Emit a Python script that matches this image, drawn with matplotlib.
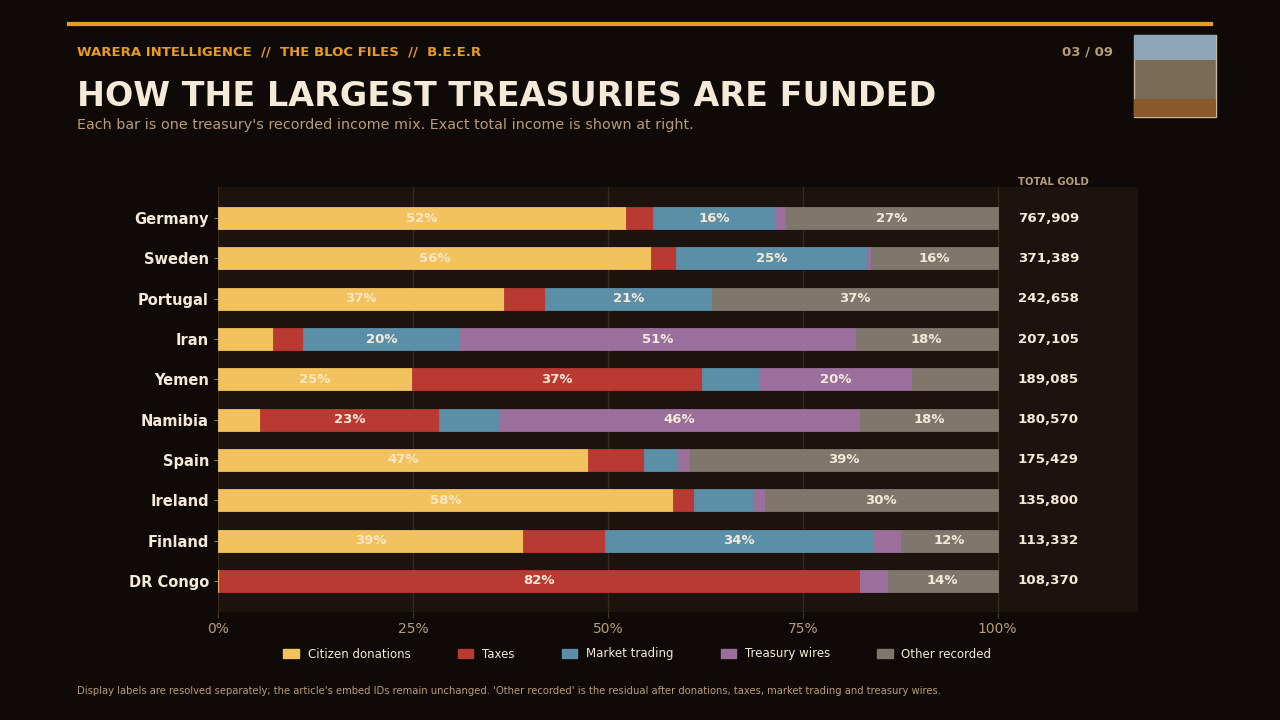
import matplotlib
matplotlib.use("Agg")
import matplotlib.pyplot as plt
from matplotlib.patches import Rectangle, Patch

countries = ["Germany", "Sweden", "Portugal", "Iran", "Yemen",
             "Namibia", "Spain", "Ireland", "Finland", "DR Congo"]
totals = [767909, 371389, 242658, 207105, 189085,
          180570, 175429, 135800, 113332, 108370]

# income mix in percent
donations = [52.3, 55.6, 36.7, 7.1, 24.9, 5.4, 47.4, 58.3, 39.1, 0.1]
taxes = [3.5, 3.1, 5.3, 3.8, 37.2, 22.9, 7.2, 2.8, 10.5, 82.2]
market = [15.6, 24.6, 21.4, 20.1, 7.3, 7.7, 4.4, 7.6, 34.4, 0.0]
wires = [1.4, 0.4, 0.0, 50.8, 19.6, 46.4, 1.6, 1.4, 3.6, 3.6]
other = [27.2, 16.3, 36.6, 18.2, 11.0, 17.6, 39.4, 29.9, 12.4, 14.1]

series_names = ["Citizen donations", "Taxes", "Market trading",
                "Treasury wires", "Other recorded"]
series = [donations, taxes, market, wires, other]
colors = ["#f2c25e", "#b83a32", "#5b8fa8", "#9a6f9c", "#7f766c"]

BG = "#0f0a07"
PANEL = "#1c120e"
CREAM = "#f5ead8"
TAN = "#b89c78"
ORANGE = "#e89c22"

fig = plt.figure(figsize=(12.8, 7.2), dpi=100, facecolor=BG)

# header
fig.add_artist(plt.Line2D([69 / 1280, 1211 / 1280], [1 - 24 / 720, 1 - 24 / 720],
                          color=ORANGE, lw=3))
fig.text(77 / 1280, 1 - 52 / 720, "WARERA INTELLIGENCE  //  THE BLOC FILES  //  B.E.E.R",
         color=ORANGE, fontsize=9.5, fontweight="bold", va="center")
fig.text(1113 / 1280, 1 - 52 / 720, "03 / 09", color=TAN, fontsize=9.5,
         fontweight="bold", va="center", ha="right")
fig.text(77 / 1280, 1 - 97 / 720, "HOW THE LARGEST TREASURIES ARE FUNDED",
         color=CREAM, fontsize=24, fontweight="bold", va="center")
fig.text(77 / 1280, 1 - 125 / 720,
         "Each bar is one treasury's recorded income mix. Exact total income is shown at right.",
         color=TAN, fontsize=10.4, va="center")

# picture placeholder in the corner
fig.add_artist(Rectangle((1134 / 1280, 1 - 117 / 720), 82 / 1280, 82 / 720,
                         transform=fig.transFigure, facecolor="#7a6a55",
                         edgecolor="#c9b79a", lw=1))
fig.add_artist(Rectangle((1134 / 1280, 1 - 60 / 720), 82 / 1280, 25 / 720,
                         transform=fig.transFigure, facecolor="#8fa6b8", lw=0))
fig.add_artist(Rectangle((1134 / 1280, 1 - 117 / 720), 82 / 1280, 18 / 720,
                         transform=fig.transFigure, facecolor="#8a5a2a", lw=0))

ax = fig.add_axes([218 / 1280, 1 - 612 / 720, 920 / 1280, 425 / 720])
ax.set_facecolor(PANEL)
for s in ax.spines.values():
    s.set_visible(False)

y = list(range(len(countries)))
left = [0.0] * len(countries)
for name, vals, col in zip(series_names, series, colors):
    ax.barh(y, vals, left=left, height=0.55, color=col, edgecolor=col,
            linewidth=0.6, label=name, zorder=3)
    for i, v in enumerate(vals):
        if v >= 12:
            tc = "#f8e8c8" if col == colors[0] else CREAM
            ax.text(left[i] + v / 2, i, f"{v:.0f}%", ha="center", va="center",
                    color=tc, fontsize=9.5, fontweight="bold", zorder=4)
    left = [l + v for l, v in zip(left, vals)]

for i, t in enumerate(totals):
    ax.text(102.6, i, f"{t:,}", ha="left", va="center", color=CREAM,
            fontsize=9.6, fontweight="bold")
ax.text(102.6, -0.77, "TOTAL GOLD", ha="left", va="bottom", color=TAN,
        fontsize=7.2, fontweight="bold")

ax.set_xlim(0, 118)
ax.set_ylim(len(countries) - 0.23, -0.77)
ax.set_xticks([0, 25, 50, 75, 100])
ax.set_xticklabels(["0%", "25%", "50%", "75%", "100%"])
ax.set_yticks(y)
ax.set_yticklabels(countries)
ax.tick_params(axis="x", colors="#4a3726", labelcolor=TAN, labelsize=10, length=4)
ax.tick_params(axis="y", colors="#8a7a66", labelcolor=CREAM, labelsize=10.5, length=3)
for lab in ax.get_yticklabels():
    lab.set_fontweight("bold")
ax.grid(axis="x", color="#3a2a1c", lw=1, zorder=0)

handles = [Patch(facecolor=c, edgecolor=c, label=n) for n, c in zip(series_names, colors)]
leg = fig.legend(handles=handles, loc="center", bbox_to_anchor=(0.498, 1 - 654 / 720),
                 ncol=5, frameon=False, fontsize=8.5, columnspacing=4.0,
                 handlelength=1.3, handleheight=0.85, handletextpad=0.75)
for t in leg.get_texts():
    t.set_color(CREAM)

fig.text(77 / 1280, 1 - 691 / 720,
         "Display labels are resolved separately; the article's embed IDs remain unchanged. "
         "'Other recorded' is the residual after donations, taxes, market trading and treasury wires.",
         color=TAN, fontsize=7.2, va="center")

fig.savefig("out.png", dpi=100, facecolor=BG)
